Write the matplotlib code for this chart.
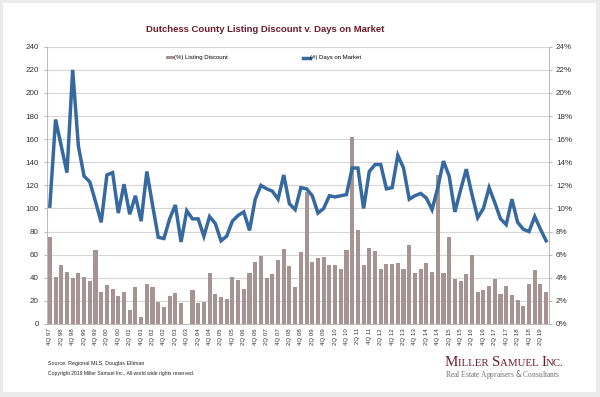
import matplotlib
matplotlib.use('Agg')
import matplotlib.pyplot as plt
from matplotlib.patches import Rectangle, Patch
from matplotlib.lines import Line2D
from matplotlib.ticker import FuncFormatter
import numpy as np

# quarters 4Q 97 .. 3Q 19
quarters = ['4Q 97'] + ['%dQ %02d' % (q, y % 100) for y in range(1998, 2020) for q in (1, 2, 3, 4)]
quarters = quarters[:88]

# (%) listing discount
discount = [7.5, 4.1, 5.1, 4.5, 4.0, 4.4, 4.1, 3.7, 6.4, 2.8,
            3.4, 3.0, 2.4, 2.8, 1.2, 3.2, 0.6, 3.5, 3.2, 1.9,
            1.5, 2.4, 2.7, 1.8, 0.0, 2.9, 1.8, 1.9, 4.4, 2.6,
            2.3, 2.2, 4.1, 3.8, 3.0, 4.4, 5.4, 5.9, 4.0, 4.3,
            5.5, 6.5, 5.0, 3.2, 6.2, 11.4, 5.4, 5.7, 5.8, 5.1,
            5.1, 4.8, 6.4, 16.2, 8.1, 5.1, 6.6, 6.3, 4.8, 5.2,
            5.2, 5.3, 4.8, 6.8, 4.4, 4.8, 5.3, 4.5, 12.9, 4.4,
            7.5, 3.9, 3.7, 4.3, 6.0, 2.8, 2.9, 3.3, 3.9, 2.6,
            3.3, 2.5, 2.1, 1.6, 3.5, 4.7, 3.5, 2.8]

# (#) days on market
days = [102, 177, 154, 131, 220, 154, 128, 123, 106, 88,
        129, 131, 96, 121, 95, 111, 89, 132, 103, 75,
        74, 91, 103, 71, 98, 91, 91, 76, 93, 87,
        72, 76, 89, 94, 97, 81, 108, 120, 117, 115,
        108, 129, 104, 99, 118, 117, 111, 96, 100, 111,
        110, 111, 112, 135, 135, 100, 132, 138, 138, 117,
        118, 146, 135, 108, 111, 113, 109, 99, 118, 141,
        128, 97, 116, 134, 112, 92, 100, 118, 105, 91,
        86, 108, 88, 82, 80, 93, 82, 72]

left_ticks = list(range(0, 241, 20))

bar_color = '#a69393'
line_color = '#36699f'
grid_color = '#d6d6d6'
maroon = '#6e1b2b'

fig = plt.figure(figsize=(6, 3.97), dpi=100, facecolor='#ebebeb')
fig.patches.append(Rectangle((3 / 600, 5 / 397), 593 / 600, 389 / 397,
                             transform=fig.transFigure, facecolor='white',
                             edgecolor='none', zorder=-5))

ax2 = fig.add_axes([47 / 600, 73 / 397, 502 / 600, 277.3 / 397])
ax = ax2.twinx()

x = np.arange(len(quarters))

# bars on the right (percent) axis, drawn underneath
ax2.bar(x, discount, width=0.72, color=bar_color, zorder=2)
ax2.set_ylim(0, 24)
ax2.set_yticks(np.arange(0, 25, 2))
ax2.yaxis.set_major_formatter(FuncFormatter(lambda v, p: '%d%%' % v))
ax2.yaxis.tick_right()
ax2.grid(axis='y', color=grid_color, lw=0.8)
ax2.set_axisbelow(True)
ax2.patch.set_facecolor('white')

# line on the left axis, on top
ax.plot(x, days, color=line_color, lw=2.5, solid_joinstyle='miter', zorder=3)
ax.set_ylim(0, 240)
ax.set_yticks(left_ticks)
ax.yaxis.tick_left()
ax.set_zorder(ax2.get_zorder() + 1)
ax.patch.set_visible(False)

ax2.set_xlim(-0.5, len(quarters) - 0.5)
ax2.set_xticks(x[::2])
ax2.set_xticklabels(quarters[::2], rotation=90, fontsize=4.4,
                    family='Liberation Sans', color='#333333')
ax2.tick_params(axis='x', length=0, pad=3)

for a in (ax, ax2):
    for s in a.spines.values():
        s.set_visible(False)
for s in ('left', 'right', 'bottom'):
    ax2.spines[s].set_visible(True)
    ax2.spines[s].set_color('#bdbdbd')
    ax2.spines[s].set_linewidth(0.8)

ax.tick_params(axis='y', labelsize=5.8, length=2, color='#bdbdbd', pad=4,
               labelcolor='#333333')
ax2.tick_params(axis='y', labelsize=5.8, length=2, color='#bdbdbd', pad=3,
                labelcolor='#333333')
for lbl in ax.get_yticklabels() + ax2.get_yticklabels():
    lbl.set_family('Liberation Sans')

# legend
handles = [Patch(facecolor=bar_color, edgecolor='none'),
           Line2D([], [], color=line_color, lw=2.5)]
leg = ax.legend(handles, ['(%) Listing Discount', '(#) Days on Market'],
                ncol=2, loc='center', bbox_to_anchor=(264 / 600, 1 - 58 / 397),
                bbox_transform=fig.transFigure, frameon=False,
                prop={'family': 'Liberation Sans', 'size': 4.3},
                handlelength=1.2, handleheight=0.5, handletextpad=0.1,
                columnspacing=12.5)

fig.text(265 / 600, 1 - 29 / 397, 'Dutchess County Listing Discount v. Days on Market',
         ha='center', va='center', fontsize=6.8, fontweight='bold',
         family='Liberation Sans', color=maroon)

fig.text(48 / 600, 1 - 364 / 397, 'Source: Regional MLS, Douglas Elliman',
         ha='left', va='center', fontsize=3.9, family='Liberation Sans', color='#222222')
fig.text(48 / 600, 1 - 373 / 397, 'Copyright 2019 Miller Samuel Inc., All world wide rights reserved.',
         ha='left', va='center', fontsize=3.6, family='Liberation Sans', color='#222222')

# logo in fake small caps
renderer = fig.canvas.get_renderer()
pieces = [('M', 10.8), ('ILLER ', 7.8), ('S', 10.8), ('AMUEL ', 7.8), ('I', 10.8), ('NC.', 7.8)]
cx = 445
for txt, size in pieces:
    t = fig.text(cx / 600, 1 - 366 / 397, txt, ha='left', va='baseline',
                 fontsize=size, family='Liberation Serif', color=maroon)
    bb = t.get_window_extent(renderer)
    cx += bb.width
fig.text(445 / 600, 1 - 377 / 397, 'Real Estate Appraisers $\\it{&}$ Consultants',
         ha='left', va='baseline', fontsize=5.45, family='Liberation Serif', color='#6f6f6f')

fig.savefig('out.png', dpi=100, facecolor=fig.get_facecolor())
